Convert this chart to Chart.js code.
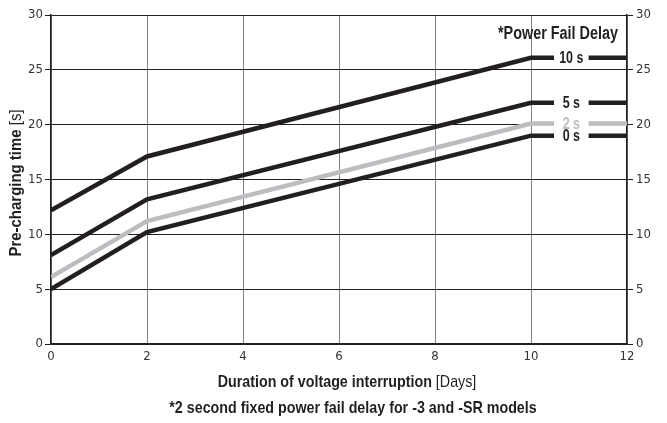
<!DOCTYPE html>
<html>
<head>
<meta charset="utf-8">
<script src="https://cdn.jsdelivr.net/npm/chart.js@4"></script>
<style>
  html, body { margin: 0; padding: 0; background: #fff; }
  #wrap { width: 667px; height: 423px; }
</style>
</head>
<body>
<div id="wrap"><canvas id="chart" width="667" height="423"></canvas></div>
<script>
// data
const days = [0, 2, 10, 12];
const delay10 = [12.2, 17.1, 26.1, 26.1];
const delay5 = [8.1, 13.2, 22.0, 22.0];
const delay2 = [6.1, 11.2, 20.1, 20.1];
const delay0 = [5.0, 10.2, 19.0, 19.0];
const seriesLabels = ["10 s", "5 s", "2 s", "0 s"];
const seriesColors = ["#231f20", "#231f20", "#bcbdc0", "#231f20"];

const FONT = "'DejaVu Sans Condensed', 'Liberation Sans', sans-serif";
const TFONT = "'Liberation Sans', Arial, sans-serif";

function pts(values) {
  return days.map((d, i) => ({ x: d, y: values[i] }));
}

// text squeezed sideways to look like a condensed face; parts = [[text, font], ...]
function squeezed(ctx, parts, x, y, sx) {
  let total = 0;
  parts.forEach(p => { ctx.font = p[1]; total += ctx.measureText(p[0]).width; });
  ctx.save();
  ctx.translate(x, y);
  ctx.scale(sx, 1);
  ctx.textAlign = "left";
  ctx.textBaseline = "middle";
  let cur = -total / 2;
  parts.forEach(p => {
    ctx.font = p[1];
    ctx.fillText(p[0], cur, 0);
    cur += ctx.measureText(p[0]).width;
  });
  ctx.restore();
}

// labels sitting in a gap of the flat end of each line, plus the legend title
const endLabels = {
  id: "endLabels",
  afterDatasetsDraw(chart) {
    const ctx = chart.ctx;
    const xs = chart.scales.x;
    const x1 = xs.getPixelForValue(10.48);
    const x2 = xs.getPixelForValue(11.2);
    const cx = xs.getPixelForValue(10.84);
    ctx.save();
    chart.data.datasets.forEach((ds, i) => {
      const y = chart.getDatasetMeta(i).data[2].y;
      ctx.fillStyle = "#fff";
      ctx.fillRect(x1, y - 3.5, x2 - x1, 7);
      ctx.fillStyle = i === 2 ? "#bcbdc0" : "#231f20";
      squeezed(ctx, [[ds.label, "bold 16px " + TFONT]], cx, y + 1, 0.78);
    });
    ctx.fillStyle = "#231f20";
    squeezed(ctx, [["*Power Fail Delay", "bold 18px " + TFONT]], 558, 34, 0.8);
    ctx.restore();
  }
};

const titles = {
  id: "titles",
  afterDraw(chart) {
    const ctx = chart.ctx;
    ctx.save();
    ctx.fillStyle = "#231f20";
    squeezed(ctx, [["Duration of voltage interruption ", "bold 17px " + TFONT], ["[Days]", "17px " + TFONT]], 347, 382, 0.84);
    squeezed(ctx, [["*2 second fixed power fail delay for -3 and -SR models", "bold 17px " + TFONT]], 353, 408, 0.84);
    ctx.translate(16, 183);
    ctx.rotate(-Math.PI / 2);
    squeezed(ctx, [["Pre-charging time ", "bold 17px " + TFONT], ["[s]", "17px " + TFONT]], 0, 0, 0.88);
    ctx.restore();
  }
};

const values = [delay10, delay5, delay2, delay0];

new Chart(document.getElementById("chart"), {
  type: "line",
  data: {
    datasets: values.map((v, i) => ({
      label: seriesLabels[i],
      data: pts(v),
      borderColor: seriesColors[i],
      borderWidth: 4.5,
      pointRadius: 0,
      tension: 0,
      fill: false
    }))
  },
  options: {
    responsive: false,
    animation: false,
    layout: { padding: { top: 15, left: 0, right: 0, bottom: 0 } },
    plugins: { legend: { display: false }, tooltip: { enabled: false } },
    scales: {
      x: {
        type: "linear",
        min: 0,
        max: 12,
        ticks: { stepSize: 2, color: "#333", font: { family: FONT, size: 13 }, padding: 5 },
        grid: { color: "#808080", lineWidth: 1, drawTicks: false },
        border: { color: "#231f20", width: 1.5 },
        afterFit(s) { s.height = 79; }
      },
      y: {
        position: "left",
        min: 0,
        max: 30,
        ticks: { stepSize: 5, color: "#333", font: { family: FONT, size: 13 }, padding: 2 },
        grid: { color: "#231f20", lineWidth: 1, tickLength: 6 },
        border: { color: "#231f20", width: 1.5 },
        afterFit(s) { s.width = 51; }
      },
      y2: {
        position: "right",
        min: 0,
        max: 30,
        ticks: { stepSize: 5, color: "#333", font: { family: FONT, size: 13 }, padding: 3 },
        grid: { drawOnChartArea: false, color: "#231f20", tickLength: 6 },
        border: { color: "#231f20", width: 1.5 },
        afterFit(s) { s.width = 40; }
      }
    }
  },
  plugins: [endLabels, titles]
});
</script>
</body>
</html>
